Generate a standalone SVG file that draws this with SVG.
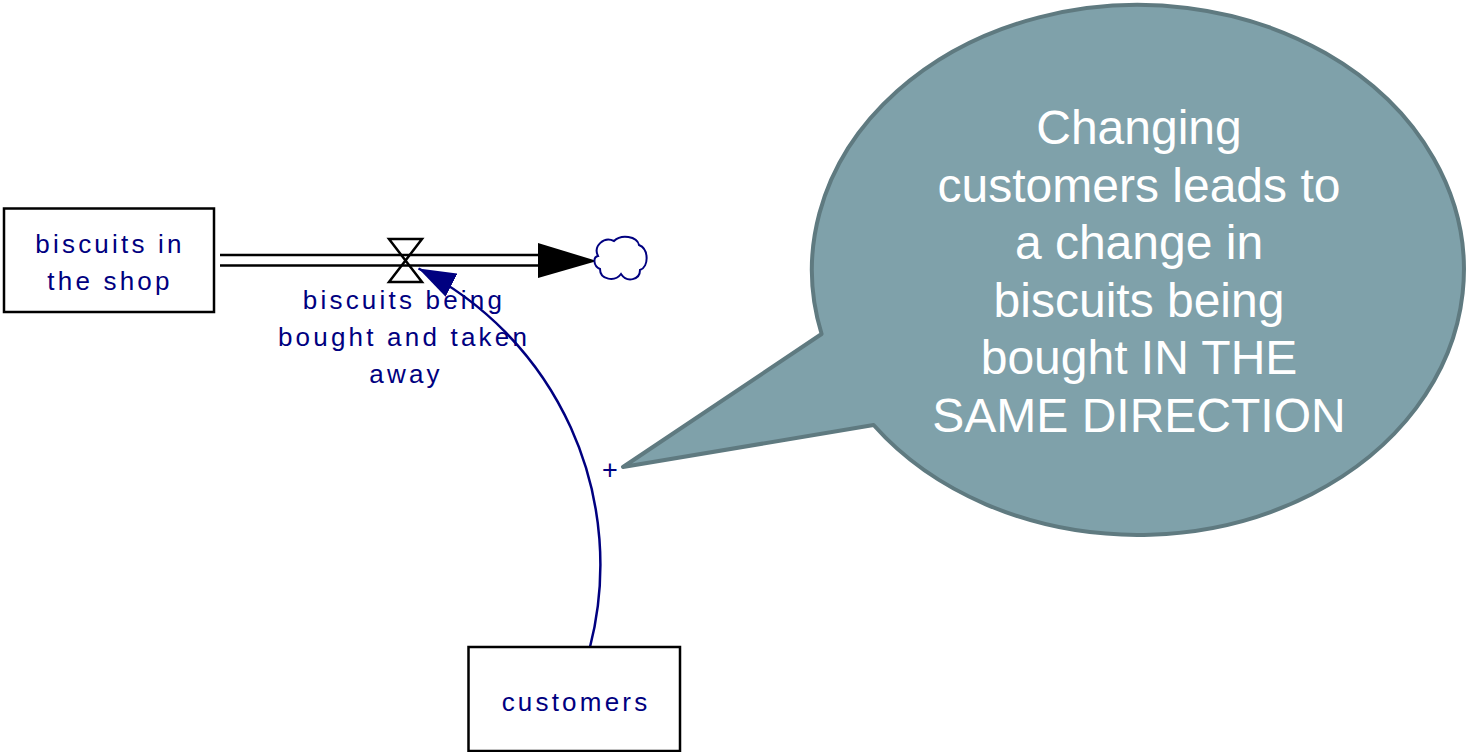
<svg xmlns="http://www.w3.org/2000/svg" width="1466" height="752" viewBox="0 0 1466 752">
<style>
.box{fill:#fff;stroke:#000;stroke-width:2.5}
.lbl{font-family:"Liberation Sans",Arial,sans-serif;font-size:26px;letter-spacing:3.2px;fill:#000080;text-anchor:middle}
.pipe{stroke:#000;stroke-width:2.5;fill:none}
.link{stroke:#000080;stroke-width:2.5;fill:none}
.note{font-family:"Liberation Sans",Arial,sans-serif;font-size:48px;fill:#fff;text-anchor:middle}
</style>
<defs>
<marker id="arr" markerUnits="userSpaceOnUse" markerWidth="40" markerHeight="28" viewBox="0 0 40 28" refX="37" refY="14" orient="auto">
<path d="M0 1 L37 14 L0 27 Z" fill="#000080"/>
</marker>
</defs>
<rect width="1466" height="752" fill="#fff"/>

<g id="callout">
<path d="M821.6 334 L623 467 L873.6 425 A326 265 0 1 0 821.6 334 Z" fill="#7fa1aa" stroke="#5f7a80" stroke-width="4" stroke-linejoin="round"/>
<text class="note" x="1139" y="144">Changing</text>
<text class="note" x="1139" y="201.5">customers leads to</text>
<text class="note" x="1139" y="259">a change in</text>
<text class="note" x="1139" y="316.5">biscuits being</text>
<text class="note" x="1139" y="374">bought IN THE</text>
<text class="note" x="1139" y="431.5">SAME DIRECTION</text>
</g>

<g id="connectors">
<g id="flow-pipe">
<line class="pipe" x1="220" y1="255" x2="540" y2="255"/>
<line class="pipe" x1="220" y1="265.5" x2="540" y2="265.5"/>
<polygon points="538,243 597,261 538,278" fill="#000"/>
</g>
<path id="link-customers" class="link" d="M590 647 A332 332 0 0 0 418.5 268.5" marker-end="url(#arr)"/>
<text x="610" y="479" font-family="'Liberation Sans',Arial,sans-serif" font-size="27" fill="#000080" text-anchor="middle">+</text>
</g>

<g id="stock-biscuits">
<rect class="box" x="4" y="208.5" width="210" height="103.5"/>
<text class="lbl" x="110" y="253">biscuits in</text>
<text class="lbl" x="110" y="290">the shop</text>
</g>

<g id="flow-valve">
<path d="M389 239 L422 239 L389 282 L422 282 Z" fill="none" stroke="#000" stroke-width="2.5" stroke-linejoin="miter"/>
<text class="lbl" x="404" y="309">biscuits being</text>
<text class="lbl" x="404" y="346">bought and taken</text>
<text class="lbl" x="406" y="383">away</text>
</g>

<g id="cloud">
<path d="M598 256 C593 246,604 236,614 241 C621 234,637 236,639 245 C649 249,649 267,640 270 C640 280,627 283,621 274 C615 282,600 280,600 269 C593 266,593 257,598 256 Z" fill="#fff" stroke="#000080" stroke-width="2"/>
</g>

<g id="aux-customers">
<rect class="box" x="468.5" y="647" width="211.5" height="104"/>
<text class="lbl" x="576" y="711">customers</text>
</g>
</svg>
